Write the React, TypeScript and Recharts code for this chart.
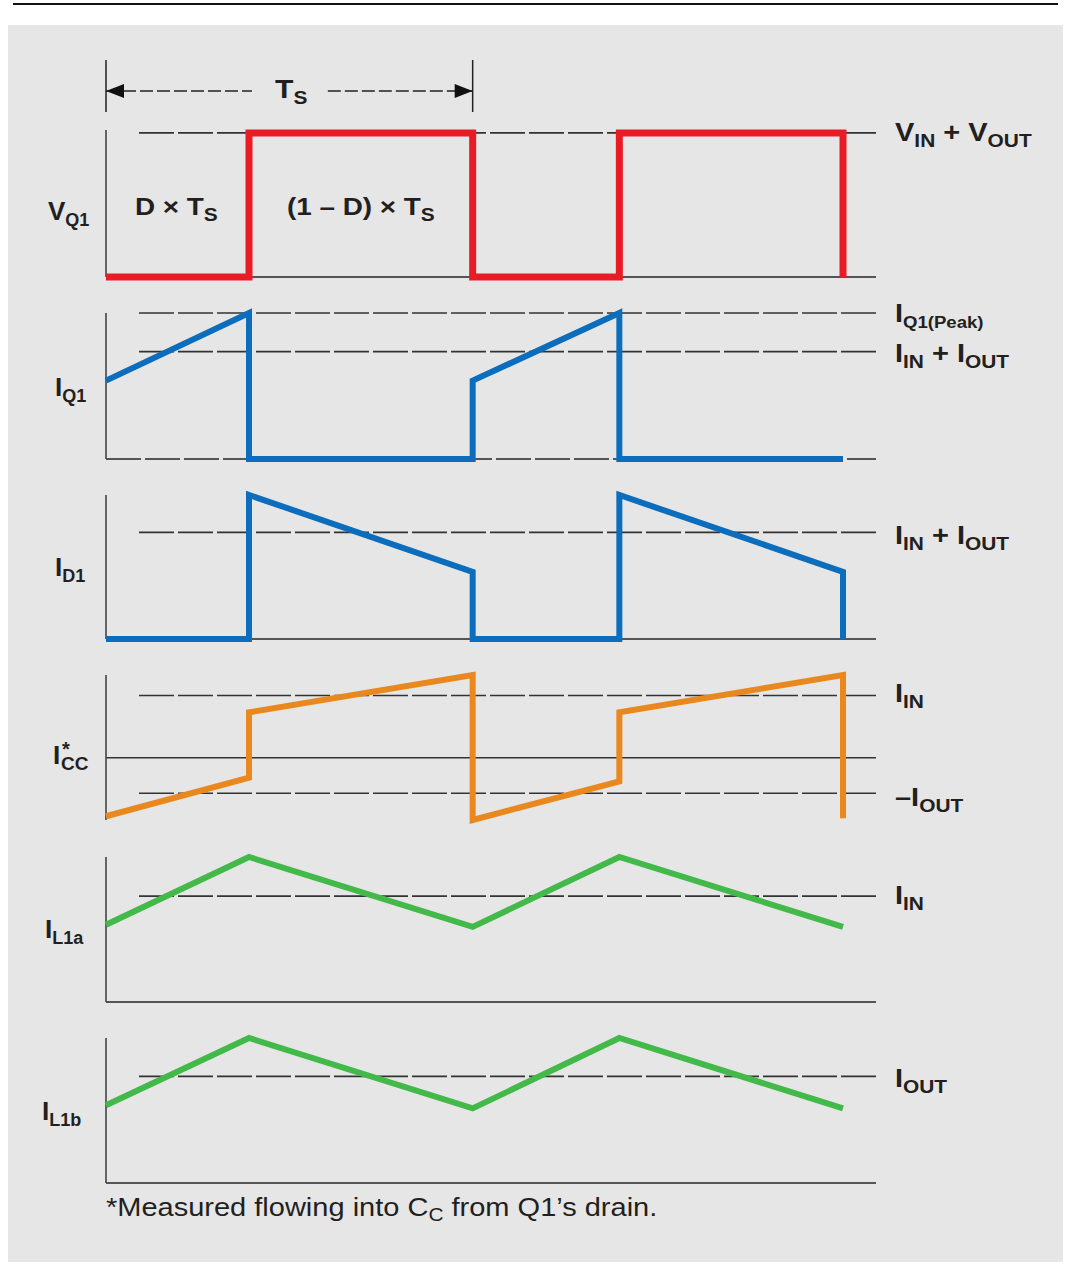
import { LineChart, Line, XAxis, YAxis, ReferenceLine } from 'recharts';

// time axis in units of Ts (one switching period)
const T_MAX = 2.1;
const DASH_START = 0.09;

// V_Q1: normalised to VIN + VOUT = 1
const vq1Time = [0, 0.39, 0.39, 1.0, 1.0, 1.4, 1.4, 2.01, 2.01];
const vq1Values = [0, 0, 1, 1, 0, 0, 1, 1, 0];

// I_Q1: normalised to IIN + IOUT = 1
const iq1Time = [0, 0.39, 0.39, 1.0, 1.0, 1.4, 1.4, 2.01];
const iq1Values = [0.73, 1.36, 0, 0, 0.73, 1.36, 0, 0];
const iq1Peak = 1.36;

// I_D1: normalised to IIN + IOUT = 1
const id1Time = [0, 0.39, 0.39, 1.0, 1.0, 1.4, 1.4, 2.01, 2.01];
const id1Values = [0, 0, 1.35, 0.63, 0, 0, 1.35, 0.63, 0];

// I_CC: normalised to IIN = 1
const iccTime = [0, 0.39, 0.39, 1.0, 1.0, 1.4, 1.4, 2.01, 2.01];
const iccValues = [-0.94, -0.32, 0.73, 1.33, -1.0, -0.38, 0.73, 1.33, -0.97];
const iccMinusIout = -0.57;

// I_L1a: normalised to IIN = 1
const il1aTime = [0, 0.39, 1.0, 1.4, 2.01];
const il1aValues = [0.73, 1.37, 0.71, 1.37, 0.71];

// I_L1b: normalised to IOUT = 1
const il1bTime = [0, 0.39, 1.0, 1.4, 2.01];
const il1bValues = [0.73, 1.36, 0.7, 1.36, 0.7];

const RED = '#e91c25';
const BLUE = '#0c6dbd';
const ORANGE = '#e8881f';
const GREEN = '#43b94a';
const INK = '#231f20';
const FONT = "'Liberation Sans', Arial, Helvetica, sans-serif";
const STRETCH = 1.16; // the original lettering is a little wider than Arial

type Part = [string, boolean]; // [text, isSubscript]

function toRows(t: number[], v: number[]) {
  return t.map((x, i) => ({ t: x, v: v[i] }));
}

function Parts({ parts, size, sub }: { parts: Part[]; size: number; sub: number }) {
  let prevSub = false;
  return (
    <>
      {parts.map(([txt, isSub], i) => {
        const dy = isSub && !prevSub ? 6 : !isSub && prevSub ? -6 : 0;
        prevSub = isSub;
        return (
          <tspan key={i} dy={dy} fontSize={isSub ? sub : size}>
            {txt}
          </tspan>
        );
      })}
    </>
  );
}

const rightLabel = (parts: Part[], dy: number, sub = 18) => (p: any) => {
  const vb = p.viewBox || {};
  const x = vb.x + vb.width + 19;
  const y = vb.y + dy;
  return (
    <g transform={`translate(${x},${y}) scale(${STRETCH},1)`}>
      <text x={0} y={0} fill={INK} fontFamily={FONT} fontWeight="bold">
        <Parts parts={parts} size={25} sub={sub} />
      </text>
    </g>
  );
};

const leftLabel = (parts: Part[], dx: number, dy: number) => (p: any) => {
  const vb = p.viewBox || {};
  return (
    <text x={vb.x - dx} y={vb.y + dy} fill={INK} fontFamily={FONT} fontWeight="bold">
      <Parts parts={parts} size={26} sub={18} />
    </text>
  );
};

const iccLabel = (p: any) => {
  const vb = p.viewBox || {};
  const x = vb.x - 53;
  const y = vb.y + 89;
  return (
    <g fill={INK} fontFamily={FONT} fontWeight="bold">
      <text x={x} y={y} fontSize={26}>I</text>
      <text x={x + 9} y={y - 8} fontSize={20}>*</text>
      <text x={x + 8} y={y + 6} fontSize={19}>CC</text>
    </g>
  );
};

const arrowShape = (end: 'start' | 'end') => (p: any) => {
  const { x1, y1, x2, y2 } = p;
  const tipX = end === 'start' ? x1 : x2;
  const dir = end === 'start' ? 1 : -1;
  return (
    <g>
      <line x1={x1} y1={y1} x2={x2} y2={y2} stroke="#222" strokeWidth={1.5} strokeDasharray="13 4" />
      <polygon
        points={`${tipX},${y1} ${tipX + dir * 18},${y1 - 7} ${tipX + dir * 18},${y1 + 7}`}
        fill="#111"
      />
    </g>
  );
};

interface PanelProps {
  top: number;
  bottom: number;
  domain: [number, number];
  rows: { t: number; v: number }[];
  color: string;
  width?: number;
  marginTop?: number;
  children?: any;
}

function Panel({ top, bottom, domain, rows, color, width = 6, marginTop = 25, children }: PanelProps) {
  const mb = 25;
  const height = bottom - top + marginTop + mb;
  return (
    <div style={{ position: 'absolute', left: 0, top: top - marginTop }}>
      <LineChart
        width={1081}
        height={height}
        data={rows}
        margin={{ top: marginTop, right: 205, bottom: mb, left: 106 }}
      >
        <XAxis type="number" dataKey="t" domain={[0, T_MAX]} hide />
        <YAxis type="number" domain={domain} hide />
        {children}
        <Line
          type="linear"
          dataKey="v"
          stroke={color}
          strokeWidth={width}
          strokeLinejoin="miter"
          dot={false}
          isAnimationActive={false}
        />
      </LineChart>
    </div>
  );
}

function dashed(y: number, label?: any) {
  return (
    <ReferenceLine
      segment={[{ x: DASH_START, y }, { x: T_MAX, y }]}
      stroke="#333"
      strokeWidth={1.6}
      strokeDasharray="35 4"
      ifOverflow="visible"
      label={label}
    />
  );
}

function axisV(label: any) {
  return <ReferenceLine x={0} stroke="#444" strokeWidth={1.6} ifOverflow="visible" label={label} />;
}

function base(y: number, dash?: string) {
  return (
    <ReferenceLine
      segment={[{ x: 0, y }, { x: T_MAX, y }]}
      stroke="#555"
      strokeWidth={2}
      strokeDasharray={dash}
      ifOverflow="visible"
    />
  );
}

export default function App() {
  const textStyle: any = {
    position: 'absolute',
    fontFamily: FONT,
    color: INK,
    whiteSpace: 'nowrap',
    transform: `scaleX(${STRETCH})`,
    transformOrigin: 'left top',
  };
  const subStyle: any = { fontSize: 18, position: 'relative', top: 6 };
  return (
    <div style={{ position: 'absolute', left: 0, top: 0, width: 1081, height: 1279, background: '#fff' }}>
      <div style={{ position: 'absolute', left: 13, top: 3, width: 1045, height: 2, background: '#111' }} />
      <div style={{ position: 'absolute', left: 8, top: 25, width: 1055, height: 1237, background: '#e6e6e6' }} />

      <Panel top={130} bottom={277} domain={[0, 1.02]} rows={toRows(vq1Time, vq1Values)} color={RED} width={7} marginTop={80}>
        {base(0)}
        {axisV(leftLabel([['V', false], ['Q1', true]], 58, 90))}
        {dashed(1, rightLabel([['V', false], ['IN', true], [' + V', false], ['OUT', true]], 8))}
        <ReferenceLine segment={[{ x: 0, y: 1.145 }, { x: 0, y: 1.506 }]} stroke="#222" strokeWidth={1.5} ifOverflow="visible" />
        <ReferenceLine segment={[{ x: 1, y: 1.145 }, { x: 1, y: 1.506 }]} stroke="#222" strokeWidth={1.5} ifOverflow="visible" />
        <ReferenceLine segment={[{ x: 0, y: 1.291 }, { x: 0.398, y: 1.291 }]} ifOverflow="visible" shape={arrowShape('start')} />
        <ReferenceLine segment={[{ x: 0.605, y: 1.291 }, { x: 1, y: 1.291 }]} ifOverflow="visible" shape={arrowShape('end')} />
      </Panel>

      <Panel top={313} bottom={459} domain={[0, 1.36]} rows={toRows(iq1Time, iq1Values)} color={BLUE}>
        {base(0, '35 4')}
        {axisV(leftLabel([['I', false], ['Q1', true]], 51, 83))}
        {dashed(iq1Peak, rightLabel([['I', false], ['Q1(Peak)', true]], 9, 16))}
        {dashed(1, rightLabel([['I', false], ['IN', true], [' + I', false], ['OUT', true]], 10))}
      </Panel>

      <Panel top={495} bottom={639} domain={[0, 1.35]} rows={toRows(id1Time, id1Values)} color={BLUE}>
        {base(0)}
        {axisV(leftLabel([['I', false], ['D1', true]], 51, 81))}
        {dashed(1, rightLabel([['I', false], ['IN', true], [' + I', false], ['OUT', true]], 12))}
      </Panel>

      <Panel top={675} bottom={820} domain={[-0.97, 1.33]} rows={toRows(iccTime, iccValues)} color={ORANGE}>
        <ReferenceLine segment={[{ x: 0, y: 0 }, { x: T_MAX, y: 0 }]} stroke="#333" strokeWidth={1.6} ifOverflow="visible" />
        {axisV(iccLabel)}
        {dashed(1, rightLabel([['I', false], ['IN', true]], 6))}
        {dashed(iccMinusIout, rightLabel([['–I', false], ['OUT', true]], 13))}
      </Panel>

      <Panel top={857} bottom={1002} domain={[0, 1.37]} rows={toRows(il1aTime, il1aValues)} color={GREEN}>
        {base(0)}
        {axisV(leftLabel([['I', false], ['L1a', true]], 61, 81))}
        {dashed(1, rightLabel([['I', false], ['IN', true]], 8))}
      </Panel>

      <Panel top={1038} bottom={1183} domain={[0, 1.36]} rows={toRows(il1bTime, il1bValues)} color={GREEN}>
        {base(0)}
        {axisV(leftLabel([['I', false], ['L1b', true]], 64, 82))}
        {dashed(1, rightLabel([['I', false], ['OUT', true]], 11))}
      </Panel>

      <div style={{ ...textStyle, left: 275, top: 74, fontSize: 26, fontWeight: 'bold' }}>
        T<span style={subStyle}>S</span>
      </div>
      <div style={{ ...textStyle, left: 135, top: 193, fontSize: 24, fontWeight: 'bold' }}>
        D × T<span style={subStyle}>S</span>
      </div>
      <div style={{ ...textStyle, left: 287, top: 193, fontSize: 24, fontWeight: 'bold' }}>
        (1 – D) × T<span style={subStyle}>S</span>
      </div>
      <div style={{ ...textStyle, left: 106, top: 1193, fontSize: 25 }}>
        *Measured flowing into C<span style={{ fontSize: 18, position: 'relative', top: 5 }}>C</span> from Q1’s drain.
      </div>
    </div>
  );
}
